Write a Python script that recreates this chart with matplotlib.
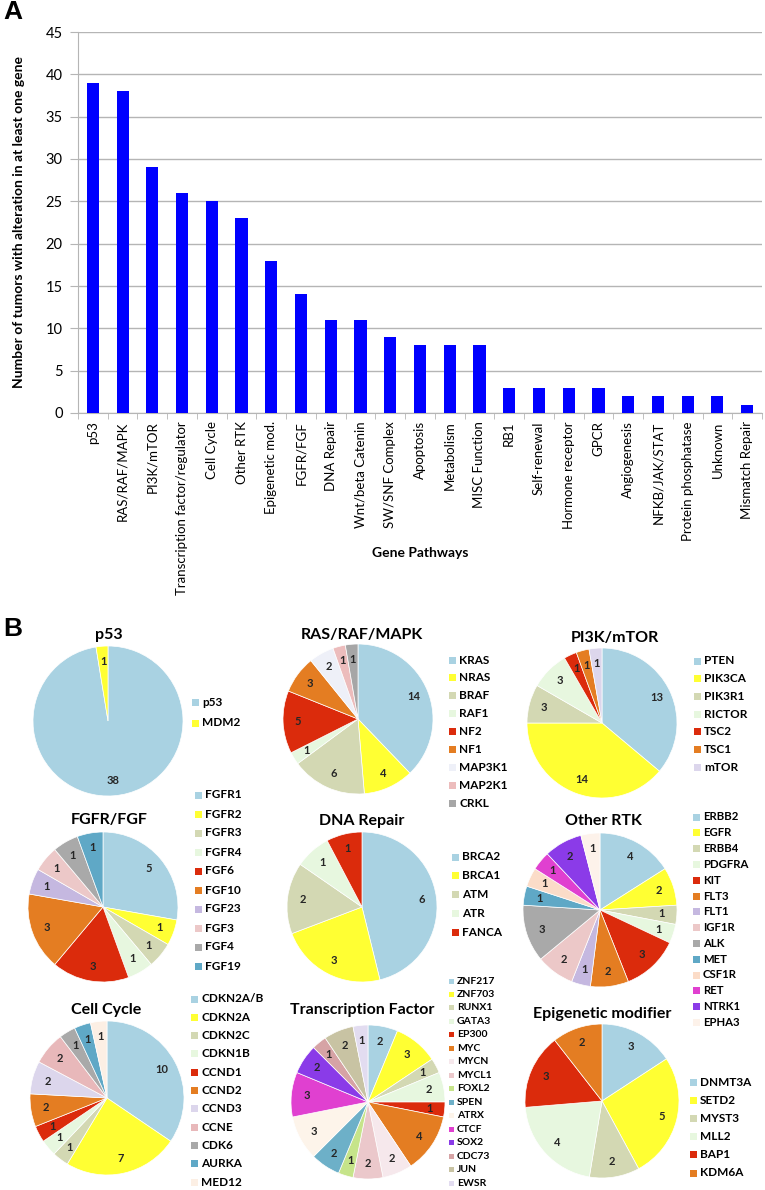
import matplotlib
matplotlib.use("Agg")
import matplotlib.pyplot as plt
from matplotlib.patches import Rectangle

plt.rcParams['font.family'] = ['Lato', 'DejaVu Sans']

W, H = 765, 1190

# ---- panel A data
pathways = ['p53', 'RAS/RAF/MAPK', 'PI3K/mTOR', 'Transcription factor/regulator',
            'Cell Cycle', 'Other RTK', 'Epigenetic mod.', 'FGFR/FGF', 'DNA Repair',
            'Wnt/beta Catenin', 'SW/SNF Complex', 'Apoptosis', 'Metabolism',
            'MISC Function', 'RB1', 'Self-renewal', 'Hormone receptor', 'GPCR',
            'Angiogenesis', 'NFKB/JAK/STAT', 'Protein phosphatase', 'Unknown',
            'Mismatch Repair']
n_tumors = [39, 38, 29, 26, 25, 23, 18, 14, 11, 11, 9, 8, 8, 8, 3, 3, 3, 3, 2, 2, 2, 2, 1]

# ---- panel B data
LB, YE, OL, PG, RD, OR = '#a9d2e2', '#ffff33', '#d3d8b3', '#e7f7df', '#db2b0c', '#e47d22'

p53_genes = ['p53', 'MDM2']
p53_counts = [38, 1]
p53_colors = [LB, YE]

ras_genes = ['KRAS', 'NRAS', 'BRAF', 'RAF1', 'NF2', 'NF1', 'MAP3K1', 'MAP2K1', 'CRKL']
ras_counts = [14, 4, 6, 1, 5, 3, 2, 1, 1]
ras_colors = [LB, YE, OL, PG, RD, OR, '#eef0f8', '#ecbcbc', '#a6a6a6']

pi3k_genes = ['PTEN', 'PIK3CA', 'PIK3R1', 'RICTOR', 'TSC2', 'TSC1', 'mTOR']
pi3k_counts = [13, 14, 3, 3, 1, 1, 1]
pi3k_colors = [LB, YE, OL, PG, RD, OR, '#dcd6ec']

fgfr_genes = ['FGFR1', 'FGFR2', 'FGFR3', 'FGFR4', 'FGF6', 'FGF10', 'FGF23', 'FGF3', 'FGF4', 'FGF19']
fgfr_counts = [5, 1, 1, 1, 3, 3, 1, 1, 1, 1]
fgfr_colors = [LB, YE, OL, PG, RD, OR, '#c5b8e0', '#ecc8c8', '#a9a9a9', '#5fa8c6']

dna_genes = ['BRCA2', 'BRCA1', 'ATM', 'ATR', 'FANCA']
dna_counts = [6, 3, 2, 1, 1]
dna_colors = [LB, YE, OL, PG, RD]

rtk_genes = ['ERBB2', 'EGFR', 'ERBB4', 'PDGFRA', 'KIT', 'FLT3', 'FLT1', 'IGF1R', 'ALK',
             'MET', 'CSF1R', 'RET', 'NTRK1', 'EPHA3']
rtk_counts = [4, 2, 1, 1, 3, 2, 1, 2, 3, 1, 1, 1, 2, 1]
rtk_colors = [LB, YE, OL, PG, RD, OR, '#c5b8e0', '#ecc8c8', '#a9a9a9', '#5fa8c6',
              '#fbdcc8', '#e040d0', '#8b3be8', '#fdf2ea']

cc_genes = ['CDKN2A/B', 'CDKN2A', 'CDKN2C', 'CDKN1B', 'CCND1', 'CCND2', 'CCND3', 'CCNE',
            'CDK6', 'AURKA', 'MED12']
cc_counts = [10, 7, 1, 1, 1, 2, 2, 2, 1, 1, 1]
cc_colors = [LB, YE, OL, PG, RD, OR, '#dcd6ec', '#e8b8ba', '#a9a9a9', '#5fa8c6', '#fcefe4']

tf_genes = ['ZNF217', 'ZNF703', 'RUNX1', 'GATA3', 'EP300', 'MYC', 'MYCN', 'MYCL1', 'FOXL2',
            'SPEN', 'ATRX', 'CTCF', 'SOX2', 'CDC73', 'JUN', 'EWSR']
tf_counts = [2, 3, 1, 2, 1, 4, 2, 2, 1, 2, 3, 3, 2, 1, 2, 1]
tf_colors = [LB, YE, OL, PG, RD, OR, '#f6e8ec', '#ebc8cb', '#c6e48a', '#6db0c8',
             '#fdf4ea', '#e040d0', '#8a3be8', '#d6a3a5', '#c8c3a3', '#e2dcf0']

epi_genes = ['DNMT3A', 'SETD2', 'MYST3', 'MLL2', 'BAP1', 'KDM6A']
epi_counts = [3, 5, 2, 4, 3, 2]
epi_colors = [LB, YE, OL, PG, RD, OR]


def fx(x):
    return x / W


def fy(y):
    return 1 - y / H


fig = plt.figure(figsize=(W / 100, H / 100), dpi=100)

# ---------------- panel A: bar chart
ax = fig.add_axes([fx(78), fy(413), (762 - 78) / W, (413 - 32) / H])
xs = range(len(pathways))
ax.bar(xs, n_tumors, width=0.41, color='#0000ff', zorder=3)
ax.set_xlim(-0.5, len(pathways) - 0.5)
ax.set_ylim(0, 45)
ax.set_yticks(range(0, 46, 5))
ax.yaxis.grid(True, color='#b5b5b5', lw=1)
ax.set_axisbelow(True)
ax.set_xticks(list(xs))
ax.set_xticklabels(pathways, rotation=90, fontsize=9.5)
ax.set_xticks([i + 0.5 for i in range(-1, len(pathways))], minor=True)
ax.tick_params(axis='x', which='major', length=0, pad=6)
ax.tick_params(axis='x', which='minor', length=4, color='#b5b5b5')
ax.tick_params(axis='y', length=6, color='#b5b5b5', labelsize=10.5, pad=5)
for s in ['top', 'right']:
    ax.spines[s].set_visible(False)
for s in ['left', 'bottom']:
    ax.spines[s].set_color('#b5b5b5')
ax.set_ylabel('Number of tumors with alteration in at least one gene',
              fontsize=10, fontweight='bold')
ax.yaxis.set_label_coords(-0.078, 0.5)
fig.text(fx(420), fy(553), 'Gene Pathways', ha='center', va='center',
         fontsize=10, fontweight='bold')

fig.text(fx(3), fy(12), 'A', ha='left', va='center', fontsize=19,
         fontweight='bold', family='Liberation Sans')
fig.text(fx(3), fy(629), 'B', ha='left', va='center', fontsize=19,
         fontweight='bold', family='Liberation Sans')


# ---------------- panel B: pies
def draw_pie(cx, cy, r, counts, colors, names, title, tx, ty,
             lx, ly, ldy, lsize=8.5, sq=7):
    pax = fig.add_axes([fx(cx - r), fy(cy + r), 2 * r / W, 2 * r / H])
    total = sum(counts)
    pax.pie(counts, colors=colors, startangle=90, counterclock=False,
            autopct=lambda p: '%d' % round(p * total / 100.0), pctdistance=0.8,
            wedgeprops=dict(edgecolor='white', linewidth=0.5),
            textprops=dict(fontsize=8, fontweight='bold', color='#262626'))
    pax.set_xlim(-1, 1)
    pax.set_ylim(-1, 1)
    pax.axis('off')
    fig.text(fx(tx), fy(ty), title, ha='center', va='center',
             fontsize=11.5, fontweight='bold')
    for i, (n, c) in enumerate(zip(names, colors)):
        y = ly + i * ldy
        fig.patches.append(Rectangle((fx(lx), fy(y + sq / 2)), sq / W, sq / H,
                                     transform=fig.transFigure, facecolor=c,
                                     edgecolor='none'))
        fig.text(fx(lx + sq + 3), fy(y), n, ha='left', va='center',
                 fontsize=lsize, fontweight='bold')


draw_pie(108, 721, 75, p53_counts, p53_colors, p53_genes, 'p53', 109, 635,
         192, 702, 21)
draw_pie(358, 719, 75, ras_counts, ras_colors, ras_genes, 'RAS/RAF/MAPK', 362, 635,
         449, 660, 17.9)
draw_pie(602, 723, 75, pi3k_counts, pi3k_colors, pi3k_genes, 'PI3K/mTOR', 615, 638,
         694, 661, 17.7)
draw_pie(103, 907, 75, fgfr_counts, fgfr_colors, fgfr_genes, 'FGFR/FGF', 109, 820,
         195, 795, 19.0)
draw_pie(362, 907, 75, dna_counts, dna_colors, dna_genes, 'DNA Repair', 362, 821,
         452, 857, 18.75)
draw_pie(600, 910, 77, rtk_counts, rtk_colors, rtk_genes, 'Other RTK', 603, 821,
         693, 817, 15.8, lsize=8.2)
draw_pie(107, 1098, 77, cc_counts, cc_colors, cc_genes, 'Cell Cycle', 106, 1010,
         191, 999, 18.3)
draw_pie(368, 1102, 77, tf_counts, tf_colors, tf_genes, 'Transcription Factor', 362, 1010,
         449, 981, 13.47, lsize=7.5, sq=5)
draw_pie(602, 1101, 77, epi_counts, epi_colors, epi_genes, 'Epigenetic modifier', 602, 1014,
         690, 1082, 18.2)

fig.savefig('out.png', dpi=100)
